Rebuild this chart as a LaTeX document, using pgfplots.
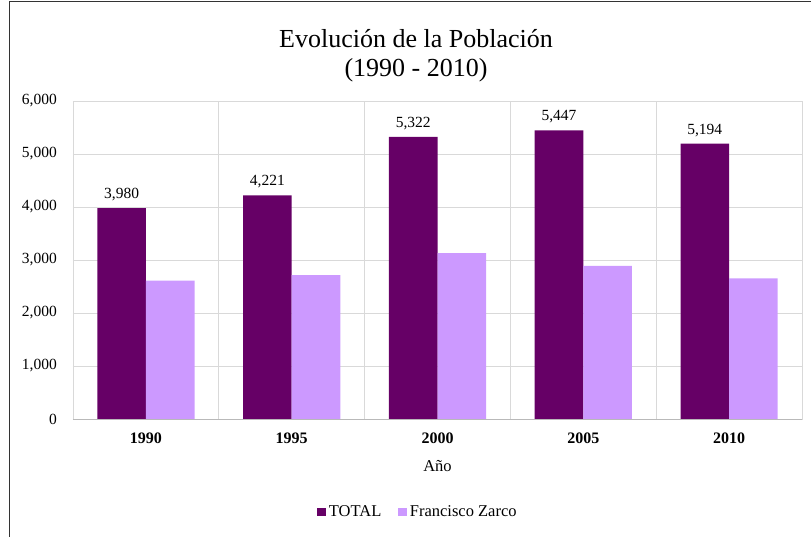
\documentclass[border=0pt]{standalone}
\usepackage{pgfplots}
\pgfplotsset{compat=1.18}
\usepackage{fontspec}
\setmainfont{Liberation Serif}

\definecolor{total}{HTML}{660066}
\definecolor{zarco}{HTML}{CC99FF}
\definecolor{gridc}{HTML}{D9D9D9}

\pgfplotstableread{
x  total  zarco
0  3980   2609
1  4221   2715
2  5322   3132
3  5447   2887
4  5194   2655
}\poblacion

\begin{document}
\begin{tikzpicture}
\useasboundingbox (0,0) rectangle (811pt,-536pt);
\draw[black!80, line width=1pt] (9pt,-537pt) -- (9pt,-1.5pt) -- (812pt,-1.5pt);

\node[font=\fontsize{26}{26}\selectfont, anchor=base] at (416pt,-47pt) {Evolución de la Población};
\node[font=\fontsize{26}{26}\selectfont, anchor=base] at (416pt,-76pt) {(1990 - 2010)};

\begin{axis}[
  at={(73pt,-419pt)}, anchor=south west,
  scale only axis, width=729pt, height=318pt,
  ybar=0pt, bar width=48.6pt,
  xmin=-0.5, xmax=4.5, ymin=0, ymax=6000,
  xtick={0,1,2,3,4},
  xticklabels={1990,1995,2000,2005,2010},
  minor xtick={-0.5,0.5,1.5,2.5,3.5,4.5},
  ytick={0,1000,...,6000},
  scaled y ticks=false,
  /pgf/number format/assume math mode=true,
  major tick length=0pt, minor tick length=0pt,
  ymajorgrids, xminorgrids,
  grid style={gridc, line width=0.8pt},
  minor grid style={gridc, line width=0.8pt},
  axis line style={gridc, line width=0.8pt},
  yticklabel style={font=\fontsize{15.5}{15.5}\selectfont, inner sep=0pt, xshift=-16pt},
  xticklabel style={font=\bfseries\fontsize{16}{16}\selectfont, inner sep=0pt, yshift=-14pt},
  xlabel={Año},
  xlabel style={font=\fontsize{16.5}{16.5}\selectfont, at={(axis description cs:0.5,0)}, anchor=base, yshift=-52pt},
  legend columns=2,
  legend style={at={(0.4726,-0.292)}, anchor=center, draw=none,
    font=\fontsize{16.5}{16.5}\selectfont,
    nodes={inner sep=1pt},
    /tikz/every odd column/.append style={column sep=2pt},
    /tikz/every even column/.append style={column sep=16pt}},
  legend image code/.code={\fill[#1] (0pt,-4.25pt) rectangle (8.5pt,4.25pt);},
]
\addplot[fill=total, draw=none,
  nodes near coords,
  nodes near coords style={font=\fontsize{15.5}{15.5}\selectfont, text=black, anchor=south, yshift=3.5pt}]
  table[x=x, y=total] {\poblacion};
\addlegendentry{TOTAL}
\addplot[fill=zarco, draw=none] table[x=x, y=zarco] {\poblacion};
\addlegendentry{Francisco Zarco}
\draw[gray!55, line width=0.8pt] (rel axis cs:0,0) -- (rel axis cs:1,0);
\end{axis}
\end{tikzpicture}
\end{document}
